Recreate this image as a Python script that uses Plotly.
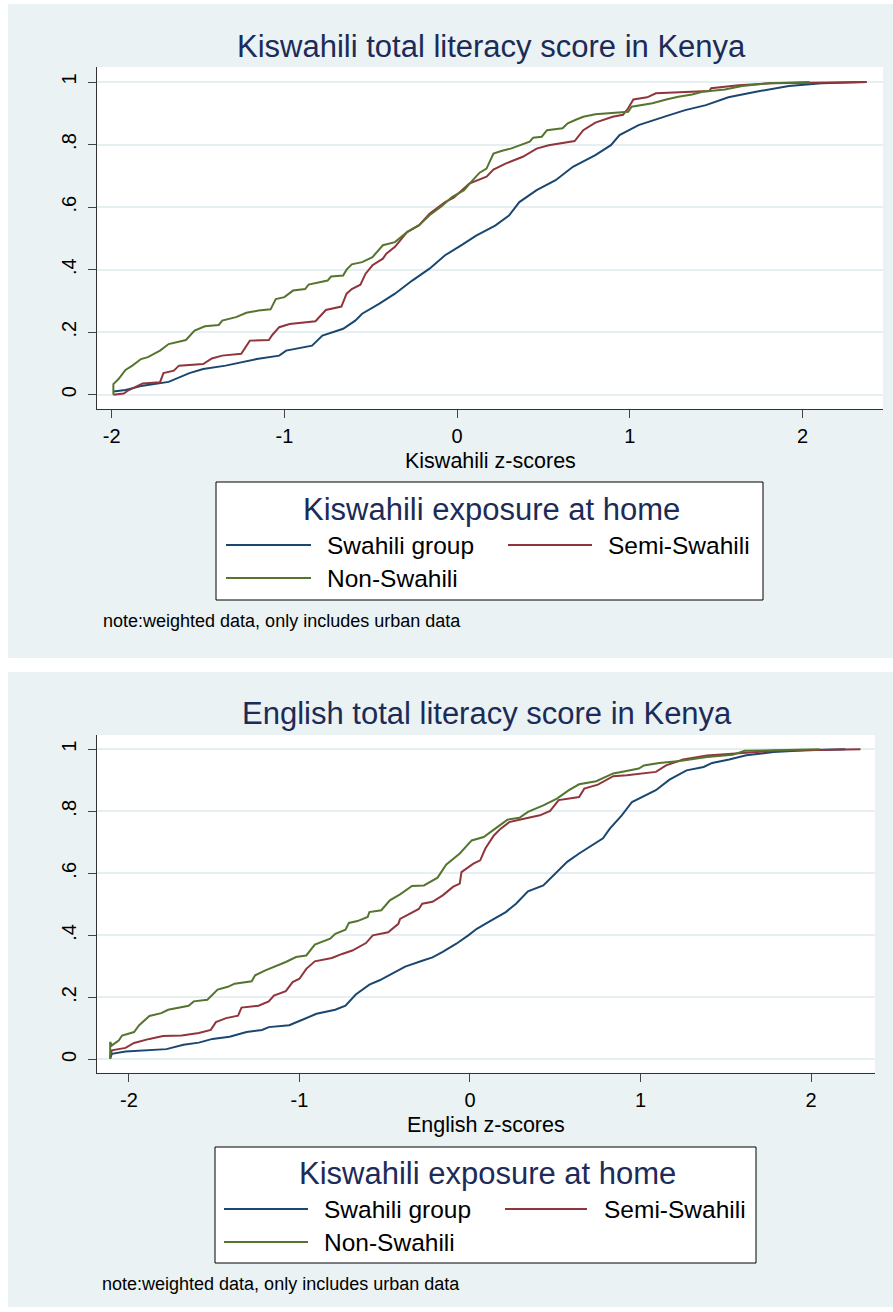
import plotly.graph_objects as go

W, H = 893, 1312

NAVY, MAROON, FOREST = "#1A476F", "#90353B", "#55752F"
PANEL_BG = "#EAF2F3"
GRID = "#E6EFF2"
HEAD = "#1C2B57"
FONT = "Liberation Sans, Arial, sans-serif"

GROUPS = ["Swahili group", "Semi-Swahili", "Non-Swahili"]
COLORS = [NAVY, MAROON, FOREST]
X_TICKS = [-2, -1, 0, 1, 2]
Y_TICKS = [0, 0.2, 0.4, 0.6, 0.8, 1]
Y_TICKTEXT = ["0", ".2", ".4", ".6", ".8", "1"]

# Cumulative distribution of Kiswahili z-scores: (z-score, cumulative share)
KIS_SWAHILI = [(-1.99, 0.010), (-1.92, 0.015), (-1.82, 0.029), (-1.67, 0.041), (-1.55, 0.069),
               (-1.47, 0.082), (-1.34, 0.093), (-1.16, 0.114), (-1.03, 0.125), (-0.99, 0.141),
               (-0.84, 0.157), (-0.78, 0.189), (-0.66, 0.211), (-0.59, 0.237), (-0.55, 0.259),
               (-0.45, 0.291), (-0.36, 0.323), (-0.26, 0.365), (-0.16, 0.403), (-0.07, 0.446),
               (0.03, 0.480), (0.11, 0.509), (0.22, 0.541), (0.30, 0.573), (0.36, 0.616),
               (0.46, 0.654), (0.57, 0.686), (0.67, 0.729), (0.80, 0.766), (0.89, 0.798),
               (0.94, 0.830), (1.05, 0.862), (1.21, 0.891), (1.32, 0.910), (1.44, 0.926),
               (1.57, 0.951), (1.73, 0.969), (1.92, 0.987), (2.11, 0.996), (2.37, 1.000)]

KIS_SEMI = [(-1.99, 0.000), (-1.93, 0.004), (-1.90, 0.015), (-1.82, 0.036), (-1.72, 0.040),
            (-1.70, 0.069), (-1.64, 0.077), (-1.61, 0.093), (-1.47, 0.098), (-1.42, 0.116),
            (-1.36, 0.125), (-1.25, 0.131), (-1.20, 0.173), (-1.09, 0.175), (-1.07, 0.191),
            (-1.03, 0.216), (-0.97, 0.226), (-0.82, 0.235), (-0.76, 0.271), (-0.67, 0.282),
            (-0.64, 0.323), (-0.61, 0.338), (-0.56, 0.352), (-0.53, 0.387), (-0.49, 0.414),
            (-0.43, 0.435), (-0.41, 0.451), (-0.36, 0.473), (-0.29, 0.520), (-0.22, 0.542),
            (-0.16, 0.579), (-0.07, 0.616), (-0.02, 0.630), (0.07, 0.675), (0.17, 0.697),
            (0.21, 0.720), (0.28, 0.739), (0.38, 0.761), (0.46, 0.787), (0.53, 0.798),
            (0.68, 0.811), (0.73, 0.846), (0.80, 0.870), (0.90, 0.889), (0.96, 0.895),
            (0.99, 0.916), (1.02, 0.944), (1.10, 0.951), (1.15, 0.964), (1.46, 0.971),
            (1.47, 0.980), (1.63, 0.990), (1.82, 0.996), (2.37, 1.000)]

KIS_NON = [(-1.99, 0.000), (-1.99, 0.034), (-1.96, 0.050), (-1.92, 0.079), (-1.88, 0.093),
           (-1.83, 0.114), (-1.79, 0.120), (-1.72, 0.141), (-1.67, 0.162), (-1.57, 0.175),
           (-1.52, 0.205), (-1.46, 0.219), (-1.38, 0.223), (-1.36, 0.237), (-1.28, 0.248),
           (-1.22, 0.262), (-1.15, 0.269), (-1.08, 0.273), (-1.05, 0.306), (-1.00, 0.312),
           (-0.95, 0.333), (-0.88, 0.338), (-0.86, 0.352), (-0.80, 0.360), (-0.75, 0.365),
           (-0.73, 0.378), (-0.66, 0.381), (-0.64, 0.400), (-0.61, 0.417), (-0.55, 0.424),
           (-0.49, 0.440), (-0.43, 0.478), (-0.36, 0.488), (-0.29, 0.520), (-0.22, 0.542),
           (-0.16, 0.574), (-0.09, 0.603), (-0.03, 0.632), (0.04, 0.654), (0.08, 0.680),
           (0.13, 0.710), (0.17, 0.723), (0.21, 0.771), (0.26, 0.780), (0.31, 0.787),
           (0.42, 0.809), (0.44, 0.822), (0.49, 0.825), (0.52, 0.846), (0.61, 0.852),
           (0.64, 0.868), (0.69, 0.880), (0.73, 0.889), (0.80, 0.897), (0.90, 0.902),
           (0.99, 0.905), (1.01, 0.921), (1.13, 0.932), (1.21, 0.944), (1.28, 0.953),
           (1.36, 0.960), (1.42, 0.969), (1.55, 0.976), (1.65, 0.987), (1.80, 0.996),
           (2.04, 1.000)]

# Cumulative distribution of English z-scores: (z-score, cumulative share)
ENG_SWAHILI = [(-2.11, 0.002), (-2.10, 0.018), (-2.02, 0.025), (-1.78, 0.033), (-1.68, 0.047),
               (-1.59, 0.054), (-1.51, 0.066), (-1.41, 0.073), (-1.31, 0.088), (-1.22, 0.095),
               (-1.18, 0.104), (-1.06, 0.110), (-0.99, 0.126), (-0.90, 0.147), (-0.79, 0.160),
               (-0.73, 0.173), (-0.67, 0.209), (-0.59, 0.241), (-0.53, 0.255), (-0.45, 0.278),
               (-0.38, 0.299), (-0.28, 0.318), (-0.22, 0.329), (-0.16, 0.347), (-0.08, 0.373),
               (-0.01, 0.400), (0.04, 0.421), (0.11, 0.443), (0.21, 0.475), (0.27, 0.502),
               (0.34, 0.542), (0.43, 0.561), (0.50, 0.599), (0.57, 0.637), (0.64, 0.664),
               (0.72, 0.691), (0.78, 0.713), (0.82, 0.744), (0.89, 0.787), (0.95, 0.830),
               (1.02, 0.848), (1.09, 0.868), (1.17, 0.902), (1.27, 0.932), (1.37, 0.943),
               (1.42, 0.956), (1.52, 0.967), (1.62, 0.981), (1.78, 0.991), (1.97, 0.997),
               (2.20, 1.000)]

ENG_SEMI = [(-2.11, 0.008), (-2.10, 0.029), (-2.02, 0.037), (-1.97, 0.053), (-1.88, 0.066),
            (-1.80, 0.075), (-1.69, 0.077), (-1.59, 0.085), (-1.52, 0.095), (-1.49, 0.120),
            (-1.43, 0.133), (-1.36, 0.141), (-1.34, 0.167), (-1.24, 0.173), (-1.18, 0.187),
            (-1.15, 0.206), (-1.08, 0.220), (-1.04, 0.249), (-1.00, 0.260), (-0.96, 0.292),
            (-0.91, 0.316), (-0.81, 0.327), (-0.75, 0.340), (-0.69, 0.351), (-0.61, 0.375),
            (-0.57, 0.400), (-0.48, 0.410), (-0.42, 0.437), (-0.41, 0.453), (-0.35, 0.471),
            (-0.30, 0.485), (-0.28, 0.502), (-0.22, 0.508), (-0.16, 0.529), (-0.10, 0.556),
            (-0.06, 0.567), (-0.05, 0.604), (0.02, 0.631), (0.06, 0.642), (0.09, 0.680),
            (0.14, 0.722), (0.18, 0.744), (0.23, 0.765), (0.29, 0.773), (0.41, 0.787),
            (0.47, 0.801), (0.52, 0.836), (0.64, 0.846), (0.67, 0.873), (0.75, 0.886),
            (0.84, 0.913), (0.92, 0.916), (1.03, 0.922), (1.09, 0.927), (1.15, 0.948),
            (1.25, 0.967), (1.39, 0.980), (1.58, 0.988), (1.78, 0.995), (2.29, 1.000)]

ENG_NON = [(-2.11, 0.002), (-2.11, 0.056), (-2.10, 0.045), (-2.06, 0.061), (-2.04, 0.077),
           (-1.97, 0.088), (-1.94, 0.110), (-1.88, 0.140), (-1.81, 0.149), (-1.77, 0.160),
           (-1.65, 0.173), (-1.62, 0.187), (-1.54, 0.192), (-1.48, 0.225), (-1.42, 0.234),
           (-1.38, 0.244), (-1.28, 0.252), (-1.26, 0.271), (-1.20, 0.287), (-1.14, 0.300),
           (-1.08, 0.314), (-1.02, 0.330), (-0.96, 0.335), (-0.91, 0.370), (-0.82, 0.389),
           (-0.79, 0.405), (-0.73, 0.418), (-0.71, 0.440), (-0.66, 0.446), (-0.60, 0.459),
           (-0.59, 0.475), (-0.52, 0.481), (-0.47, 0.513), (-0.41, 0.532), (-0.34, 0.559),
           (-0.27, 0.561), (-0.19, 0.586), (-0.14, 0.628), (-0.06, 0.664), (0.01, 0.706),
           (0.08, 0.717), (0.16, 0.749), (0.22, 0.773), (0.29, 0.779), (0.34, 0.798),
           (0.43, 0.819), (0.51, 0.841), (0.58, 0.868), (0.64, 0.887), (0.74, 0.897),
           (0.84, 0.922), (0.91, 0.929), (0.99, 0.938), (1.02, 0.948), (1.11, 0.956),
           (1.23, 0.962), (1.39, 0.975), (1.54, 0.982), (1.61, 0.995), (1.78, 0.997),
           (2.05, 1.000)]


def fx(px):
    return px / W


def fy(py):
    return 1 - py / H


PANELS = [
    dict(title="Kiswahili total literacy score in Kenya", xtitle="Kiswahili z-scores",
         series=[KIS_SWAHILI, KIS_SEMI, KIS_NON], ax="", bg=(8, 4, 893, 658),
         plot=(97.3, 67, 883, 409), xrange=[-2.083, 2.465], yrange=[-0.0457, 1.048],
         title_at=(491, 47), xtitle_at=(490, 461),
         legend=(216, 482, 763, 600), leg_title=(491, 510), rows=(545, 578),
         samples=((226, 311), (508, 592)), labels=(325, 606), note_at=(101, 621)),
    dict(title="English total literacy score in Kenya", xtitle="English z-scores",
         series=[ENG_SWAHILI, ENG_SEMI, ENG_NON], ax="2", bg=(8, 672, 893, 1307),
         plot=(96.7, 735, 875, 1072.7), xrange=[-2.189, 2.375], yrange=[-0.043, 1.046],
         title_at=(487, 713), xtitle_at=(486, 1125),
         legend=(215, 1147, 756, 1263), leg_title=(487, 1173), rows=(1209, 1242),
         samples=((224, 308), (505, 587)), labels=(322, 602), note_at=(100, 1284)),
]

fig = go.Figure()
shapes, annotations = [], []

for pnl in PANELS:
    ax = pnl["ax"]
    x0, y0, x1, y1 = pnl["plot"]

    # grey graph region, then the white plot region on top of it
    bx0, by0, bx1, by1 = pnl["bg"]
    shapes.append(dict(type="rect", xref="paper", yref="paper", layer="below",
                       x0=fx(bx0), x1=fx(bx1), y0=fy(by1), y1=fy(by0),
                       fillcolor=PANEL_BG, line=dict(width=0)))
    shapes.append(dict(type="rect", xref="paper", yref="paper", layer="below",
                       x0=fx(x0), x1=fx(x1), y0=fy(y1), y1=fy(y0),
                       fillcolor="white", line=dict(width=0)))

    for data, name, color in zip(pnl["series"], GROUPS, COLORS):
        fig.add_trace(go.Scatter(
            x=[z for z, _ in data], y=[p for _, p in data], mode="lines", name=name,
            line=dict(color=color, width=2), showlegend=False,
            xaxis="x" + ax, yaxis="y" + ax))

    axis_common = dict(showline=True, linecolor="#333333", linewidth=1,
                       ticks="outside", ticklen=8, tickcolor="#444444", tickwidth=1,
                       tickfont=dict(family=FONT, size=20, color="black"),
                       zeroline=False)
    fig.update_layout(**{
        "xaxis" + ax: dict(axis_common, domain=[fx(x0), fx(x1)], range=pnl["xrange"],
                           tickvals=X_TICKS, ticktext=[str(v) for v in X_TICKS],
                           showgrid=False, anchor="y" + ax, ticklabelstandoff=1),
        "yaxis" + ax: dict(axis_common, domain=[fy(y1), fy(y0)], range=pnl["yrange"],
                           tickvals=Y_TICKS, ticktext=Y_TICKTEXT, tickangle=-90,
                           showgrid=True, gridcolor=GRID, gridwidth=2,
                           anchor="x" + ax, ticklabelstandoff=4),
    })

    tx, ty = pnl["title_at"]
    annotations.append(dict(text=pnl["title"], x=fx(tx), y=fy(ty), xref="paper", yref="paper",
                            xanchor="center", yanchor="middle", showarrow=False,
                            font=dict(family=FONT, size=31, color=HEAD)))
    tx, ty = pnl["xtitle_at"]
    annotations.append(dict(text=pnl["xtitle"], x=fx(tx), y=fy(ty), xref="paper", yref="paper",
                            xanchor="center", yanchor="middle", showarrow=False,
                            font=dict(family=FONT, size=21.5, color="black")))

    # legend box
    lx0, ly0, lx1, ly1 = pnl["legend"]
    shapes.append(dict(type="rect", xref="paper", yref="paper", layer="above",
                       x0=fx(lx0), x1=fx(lx1), y0=fy(ly1), y1=fy(ly0),
                       fillcolor="white", line=dict(color="black", width=1)))
    tx, ty = pnl["leg_title"]
    annotations.append(dict(text="Kiswahili exposure at home", x=fx(tx), y=fy(ty),
                            xref="paper", yref="paper", xanchor="center", yanchor="middle",
                            showarrow=False, font=dict(family=FONT, size=31, color=HEAD)))
    slots = [(0, 0), (0, 1), (1, 0)]  # (row, column) for each group
    for (row, col), name, color in zip(slots, GROUPS, COLORS):
        sy = pnl["rows"][row]
        sa, sb = pnl["samples"][col]
        shapes.append(dict(type="line", xref="paper", yref="paper", layer="above",
                           x0=fx(sa), x1=fx(sb), y0=fy(sy), y1=fy(sy),
                           line=dict(color=color, width=2)))
        annotations.append(dict(text=name, x=fx(pnl["labels"][col]), y=fy(sy),
                                xref="paper", yref="paper", xanchor="left", yanchor="middle",
                                showarrow=False, font=dict(family=FONT, size=24.5, color="black")))

    nx, ny = pnl["note_at"]
    annotations.append(dict(text="note:weighted data, only includes urban data", x=fx(nx), y=fy(ny),
                            xref="paper", yref="paper", xanchor="left", yanchor="middle",
                            showarrow=False, font=dict(family=FONT, size=18, color="black")))

fig.update_layout(width=W, height=H, margin=dict(l=0, r=0, t=0, b=0),
                  paper_bgcolor="white", plot_bgcolor="white",
                  shapes=shapes, annotations=annotations, showlegend=False,
                  font=dict(family=FONT))

fig.write_html("out.html")
